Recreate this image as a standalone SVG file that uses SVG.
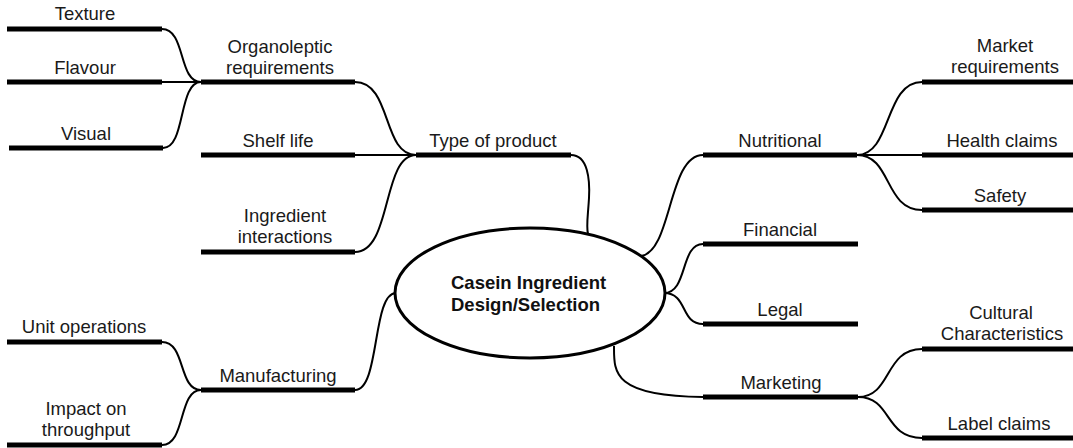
<svg xmlns="http://www.w3.org/2000/svg" width="1073" height="448" viewBox="0 0 1073 448">
  <style>
    .bar { stroke: #000; stroke-width: 5; stroke-linecap: butt; }
    .lbl { font-family: "Liberation Sans", Arial, Helvetica, sans-serif; font-size: 18.5px; fill: #1a1a1a; text-anchor: middle; }
    .hub { font-family: "Liberation Sans", Arial, Helvetica, sans-serif; font-size: 18.5px; font-weight: bold; fill: #111; }
    .link { fill: none; stroke: #000; stroke-width: 2; }
  </style>
  <rect width="1073" height="448" fill="#fff"/>

  <!-- branch connectors -->
  <g id="connectors">
    <!-- organoleptic leaves -->
    <path class="link" d="M162,29 C186,29 178,82 201,82"/>
    <path class="link" d="M162,82 C180,82 185,82 201,82"/>
    <path class="link" d="M163,148 C186,148 178,82 201,82"/>
    <!-- type of product inputs -->
    <path class="link" d="M355,82 C392,82 382,155 416,155"/>
    <path class="link" d="M355,155 L416,155"/>
    <path class="link" d="M355,252 C392,252 382,155 416,155"/>
    <!-- type of product to hub -->
    <path class="link" d="M571,155 C588,155 590,180 589,198 C588,216 586,226 588,234"/>
    <!-- manufacturing -->
    <path class="link" d="M162,342 C186,342 178,390 201,390"/>
    <path class="link" d="M162,445 C186,445 178,390 201,390"/>
    <path class="link" d="M355,390 C380,390 372,293 396,293"/>
    <!-- hub to right-hand branches -->
    <path class="link" d="M641,256 C672,252 668,155 703,155"/>
    <path class="link" d="M664,293 C688,293 680,244 703,244"/>
    <path class="link" d="M664,293 C688,293 680,324 703,324"/>
    <path class="link" d="M614,346 C614,372 612,396 703,397"/>
    <!-- nutritional leaves -->
    <path class="link" d="M857,155 C892,155 884,82 922,82"/>
    <path class="link" d="M857,155 L922,155"/>
    <path class="link" d="M857,155 C892,155 884,210 922,210"/>
    <!-- marketing leaves -->
    <path class="link" d="M858,397 C892,397 884,349 922,349"/>
    <path class="link" d="M858,397 C892,397 884,438 922,438"/>
  </g>

  <!-- central topic -->
  <g id="hub">
    <ellipse cx="530" cy="293" rx="135" ry="65" fill="#fff" stroke="#000" stroke-width="3"/>
    <text class="hub" x="451" y="289">Casein Ingredient</text>
    <text class="hub" x="451" y="311">Design/Selection</text>
  </g>

  <!-- left side -->
  <g id="texture">
    <line class="bar" x1="7" y1="29" x2="162" y2="29"/>
    <text class="lbl" x="85" y="20">Texture</text>
  </g>
  <g id="flavour">
    <line class="bar" x1="7" y1="82" x2="162" y2="82"/>
    <text class="lbl" x="85" y="74">Flavour</text>
  </g>
  <g id="visual">
    <line class="bar" x1="9" y1="148" x2="163" y2="148"/>
    <text class="lbl" x="86" y="140">Visual</text>
  </g>
  <g id="organoleptic">
    <line class="bar" x1="201" y1="82" x2="355" y2="82"/>
    <text class="lbl" x="280" y="53">Organoleptic</text>
    <text class="lbl" x="280" y="74">requirements</text>
  </g>
  <g id="shelf-life">
    <line class="bar" x1="201" y1="155" x2="355" y2="155"/>
    <text class="lbl" x="278" y="147">Shelf life</text>
  </g>
  <g id="ingredient-interactions">
    <line class="bar" x1="201" y1="252" x2="355" y2="252"/>
    <text class="lbl" x="285" y="222">Ingredient</text>
    <text class="lbl" x="285" y="243">interactions</text>
  </g>
  <g id="type-of-product">
    <line class="bar" x1="416" y1="155" x2="571" y2="155"/>
    <text class="lbl" x="493" y="147">Type of product</text>
  </g>
  <g id="unit-operations">
    <line class="bar" x1="7" y1="342" x2="162" y2="342"/>
    <text class="lbl" x="84" y="333">Unit operations</text>
  </g>
  <g id="impact-on-throughput">
    <line class="bar" x1="7" y1="445" x2="162" y2="445"/>
    <text class="lbl" x="86" y="415">Impact on</text>
    <text class="lbl" x="86" y="436">throughput</text>
  </g>
  <g id="manufacturing">
    <line class="bar" x1="201" y1="390" x2="355" y2="390"/>
    <text class="lbl" x="278" y="382">Manufacturing</text>
  </g>

  <!-- right side -->
  <g id="nutritional">
    <line class="bar" x1="703" y1="155" x2="857" y2="155"/>
    <text class="lbl" x="780" y="147">Nutritional</text>
  </g>
  <g id="market-requirements">
    <line class="bar" x1="922" y1="82" x2="1077" y2="82"/>
    <text class="lbl" x="1005" y="52">Market</text>
    <text class="lbl" x="1005" y="73">requirements</text>
  </g>
  <g id="health-claims">
    <line class="bar" x1="922" y1="155" x2="1077" y2="155"/>
    <text class="lbl" x="1002" y="147">Health claims</text>
  </g>
  <g id="safety">
    <line class="bar" x1="922" y1="210" x2="1077" y2="210"/>
    <text class="lbl" x="1000" y="202">Safety</text>
  </g>
  <g id="financial">
    <line class="bar" x1="703" y1="244" x2="858" y2="244"/>
    <text class="lbl" x="780" y="236">Financial</text>
  </g>
  <g id="legal">
    <line class="bar" x1="703" y1="324" x2="858" y2="324"/>
    <text class="lbl" x="780" y="316">Legal</text>
  </g>
  <g id="marketing">
    <line class="bar" x1="703" y1="397" x2="858" y2="397"/>
    <text class="lbl" x="781" y="389">Marketing</text>
  </g>
  <g id="cultural-characteristics">
    <line class="bar" x1="922" y1="349" x2="1077" y2="349"/>
    <text class="lbl" x="1001" y="319">Cultural</text>
    <text class="lbl" x="1002" y="340">Characteristics</text>
  </g>
  <g id="label-claims">
    <line class="bar" x1="922" y1="438" x2="1077" y2="438"/>
    <text class="lbl" x="999" y="430">Label claims</text>
  </g>
</svg>
